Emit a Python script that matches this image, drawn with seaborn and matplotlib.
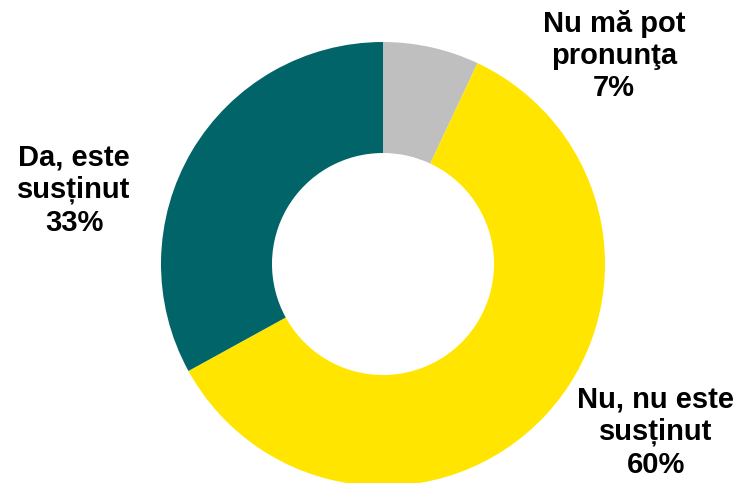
import numpy as np
import matplotlib
matplotlib.use("Agg")
import matplotlib.pyplot as plt
import seaborn as sns

# data
labels = ["Nu mă pot\npronunţa", "Nu, nu este\nsusținut", "Da, este\nsusținut"]
values = [7, 60, 33]
colors = ["#BFBFBF", "#FFE500", "#006469"]

sns.set_style("white")
plt.rcParams['font.family'] = ['Liberation Sans', 'DejaVu Sans']

fig = plt.figure(figsize=(7.4, 4.83), dpi=100)
ax = fig.add_axes([0, 0, 1, 1])

wedges, _ = ax.pie(values, colors=sns.color_palette(colors), startangle=90, counterclock=False,
                   radius=1.0, wedgeprops=dict(width=0.5, linewidth=0))

# label positions (data coords, pie radius = 1)
label_pos = [(1.04, 0.937), (1.228, -0.757), (-1.392, 0.333)]
for lab, v, (x, y) in zip(labels, values, label_pos):
    ax.text(x, y, "{}\n{}%".format(lab, v), ha="center", va="center",
            fontsize=21, fontweight="bold", linespacing=1.2, color="black")

ax.set_xlim(-383 / 222, (740 - 383) / 222)
ax.set_ylim(-219 / 222, 264 / 222)
ax.set_aspect("auto")
ax.axis("off")

fig.savefig("out.png", dpi=100)
